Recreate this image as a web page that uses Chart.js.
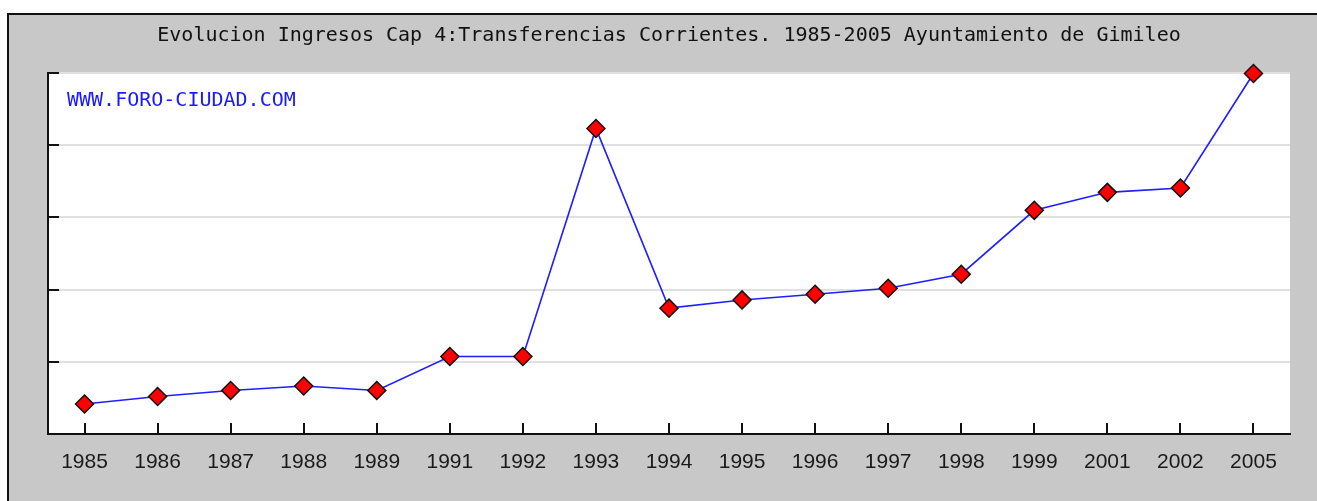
<!DOCTYPE html>
<html>
<head>
<meta charset="utf-8">
<script src="https://cdn.jsdelivr.net/npm/chart.js@4.4.1/dist/chart.umd.min.js"></script>
<style>
    html, body { margin: 0; padding: 0; background: #fff; }
    #marco {
        position: absolute; left: 7px; top: 13px;
        width: 1308px; height: 486px;
        border-left: 2px solid #111; border-top: 2px solid #111;
        background: #c8c8c8;
    }
    #grafico { display: block; }
</style>
</head>
<body>
<div id="marco"><canvas id="grafico" width="1308" height="486"></canvas></div>
<script>
// Anni (categorie dell'asse x)
const anni = ['1985', '1986', '1987', '1988', '1989', '1991', '1992', '1993', '1994',
              '1995', '1996', '1997', '1998', '1999', '2001', '2002', '2005'];

// Valori (scala relativa, asse y senza etichette)
const ingresos = [41.5, 52, 60.3, 66.4, 60.3, 107.3, 107.3, 423.2, 174.3,
                  185.7, 193.6, 201.9, 221.3, 309.8, 334.7, 340.7, 499.3];

const titolo = 'Evolucion Ingresos Cap 4:Transferencias Corrientes. 1985-2005 Ayuntamiento de Gimileo';
const marchio = 'WWW.FORO-CIUDAD.COM';

// Sfondo bianco dell'area del grafico + scritta blu
const sfondoPlugin = {
    id: 'sfondo',
    beforeDraw(chart) {
        const { ctx, chartArea: a } = chart;
        ctx.save();
        ctx.fillStyle = '#ffffff';
        ctx.fillRect(a.left, a.top, a.right - a.left, a.bottom - a.top);
        ctx.restore();
    },
    beforeDatasetsDraw(chart) {
        const { ctx, chartArea: a } = chart;
        ctx.save();
        ctx.fillStyle = '#1a1aff';
        ctx.font = '20px "DejaVu Sans Mono"';
        ctx.textBaseline = 'middle';
        ctx.fillText(marchio, a.left + 19, a.top + 28);
        ctx.restore();
    }
};

// Tacche verso l'interno sugli assi
const tacchePlugin = {
    id: 'tacche',
    afterDatasetsDraw(chart) {
        const { ctx, chartArea: a, scales } = chart;
        ctx.save();
        ctx.strokeStyle = '#111';
        ctx.lineWidth = 2;
        ctx.beginPath();
        scales.x.ticks.forEach((t, i) => {
            const px = Math.round(scales.x.getPixelForTick(i));
            ctx.moveTo(px, a.bottom);
            ctx.lineTo(px, a.bottom - 11);
        });
        scales.y.ticks.forEach(t => {
            const py = Math.round(scales.y.getPixelForValue(t.value));
            ctx.moveTo(a.left, py);
            ctx.lineTo(a.left + 11, py);
        });
        ctx.stroke();
        ctx.restore();
    }
};

const ctx = document.getElementById('grafico').getContext('2d');
new Chart(ctx, {
    type: 'line',
    data: {
        labels: anni,
        datasets: [{
            data: ingresos,
            borderColor: 'rgb(30, 30, 255)',
            borderWidth: 1.6,
            fill: false,
            tension: 0,
            clip: false,
            pointStyle: 'rectRot',
            pointRadius: 9,
            pointHoverRadius: 9,
            pointBackgroundColor: '#ff0000',
            pointBorderColor: '#111',
            pointBorderWidth: 1.5
        }]
    },
    options: {
        responsive: false,
        animation: false,
        layout: { padding: { left: 39, right: 27, top: 0, bottom: 0 } },
        scales: {
            x: {
                offset: true,
                grid: { display: false, drawTicks: false },
                border: { display: true, color: '#111', width: 2 },
                ticks: {
                    color: '#1a1a1a',
                    font: { family: '"Liberation Sans"', size: 21 },
                    padding: 16,
                    maxRotation: 0,
                    autoSkip: false
                },
                afterFit(s) { s.height = 67; }
            },
            y: {
                min: 0,
                max: 500,
                grid: { color: '#e0e0e0', lineWidth: 2, drawTicks: false },
                border: { display: true, color: '#111', width: 2 },
                ticks: { display: false, stepSize: 100 },
                afterFit(s) { s.width = 0; }
            }
        },
        plugins: {
            legend: { display: false },
            tooltip: { enabled: false },
            title: {
                display: true,
                text: titolo,
                color: '#111',
                font: { family: '"DejaVu Sans Mono"', size: 20, weight: 'normal' },
                padding: { top: 9, bottom: 25 }
            }
        }
    },
    plugins: [sfondoPlugin, tacchePlugin]
});
</script>
</body>
</html>
